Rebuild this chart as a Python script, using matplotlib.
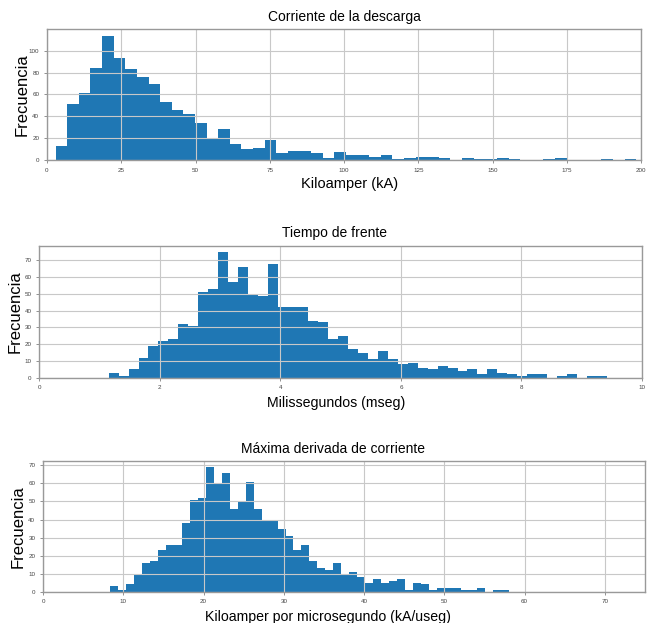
import numpy as np
import matplotlib
matplotlib.use("Agg")
import matplotlib.pyplot as plt

plt.rcParams['font.family'] = ['Liberation Sans', 'DejaVu Sans']

# conteos por bin (50 bins cada histograma)
corriente_counts = [13, 51, 61, 84, 114, 93, 83, 76, 70, 53,
                    46, 42, 34, 20, 28, 15, 10, 11, 18, 6,
                    8, 8, 6, 2, 7, 5, 5, 3, 5, 1,
                    2, 3, 3, 2, 0, 2, 1, 1, 2, 1,
                    0, 0, 1, 2, 0, 0, 0, 1, 0, 1]
corriente_range = (2.9, 198.4)

tiempo_counts = [3, 1, 5, 12, 19, 22, 23, 32, 31, 51,
                 53, 75, 57, 66, 50, 49, 68, 42, 42, 42,
                 34, 33, 23, 25, 17, 15, 11, 16, 11, 8,
                 9, 6, 5, 7, 6, 4, 5, 2, 5, 3,
                 2, 1, 2, 2, 0, 1, 2, 0, 1, 1]
tiempo_range = (1.15, 9.42)

deriv_counts = [3, 1, 4, 9, 16, 17, 23, 26, 26, 38,
                51, 52, 69, 60, 66, 46, 50, 61, 46, 40,
                40, 35, 31, 23, 26, 17, 13, 12, 16, 10,
                11, 8, 5, 7, 5, 6, 7, 1, 5, 4,
                1, 2, 2, 2, 1, 1, 2, 0, 1, 1]
deriv_range = (8.3, 58.1)

titles = ["Corriente de la descarga", "Tiempo de frente", "Máxima derivada de corriente"]
xlabels = ["Kiloamper (kA)", "Milissegundos (mseg)", "Kiloamper por microsegundo (kA/useg)"]
xlims = [(0, 200), (0, 10), (0, 75)]
xticks = [np.arange(0, 201, 25), np.arange(0, 11, 2), np.arange(0, 71, 10)]
yticks = [np.arange(0, 101, 20), np.arange(0, 71, 10), np.arange(0, 71, 10)]

fig = plt.figure(figsize=(6.56, 6.23), dpi=100)
W, H = 656, 623
# (left, right, top, bottom) en pixeles
boxes = [(47, 641, 29.3, 160), (39.3, 642, 245.7, 377.7), (43, 645, 461, 591.7)]
ylab_x = [-0.042, -0.040, -0.041]
xlab_pos = [(0.51, -0.185), (0.493, -0.192), (0.474, -0.193)]
xlab_size = [10.5, 10.2, 10.2]
title_x = [0.5, 0.49, 0.482]

data = [(corriente_counts, corriente_range), (tiempo_counts, tiempo_range), (deriv_counts, deriv_range)]

for i, (counts, rng) in enumerate(data):
	l, r, t, b = boxes[i]
	ax = fig.add_axes([l/W, 1-b/H, (r-l)/W, (b-t)/H])
	edges = np.linspace(rng[0], rng[1], len(counts)+1)
	ax.hist(edges[:-1], bins=edges, weights=counts, color='#1f77b4')
	ax.set_xlim(xlims[i])
	ax.set_xticks(xticks[i])
	ax.set_yticks(yticks[i])
	ax.grid(True, color='#c8c8c8', linewidth=0.8)
	ax.tick_params(labelsize=4.5, labelcolor='#444444', length=2, width=0.5, color='#666666')
	for s in ax.spines.values():
		s.set_color('#999999')
		s.set_linewidth(1.0)
	ax.set_title(titles[i], fontsize=10)
	ax.title.set_x(title_x[i])
	ax.set_xlabel(xlabels[i], fontsize=xlab_size[i], va='center')
	ax.xaxis.set_label_coords(*xlab_pos[i])
	ax.set_ylabel("Frecuencia", fontsize=12, va='center')
	ax.yaxis.set_label_coords(ylab_x[i], 0.5)

plt.savefig("out.png", dpi=100)
plt.close()
